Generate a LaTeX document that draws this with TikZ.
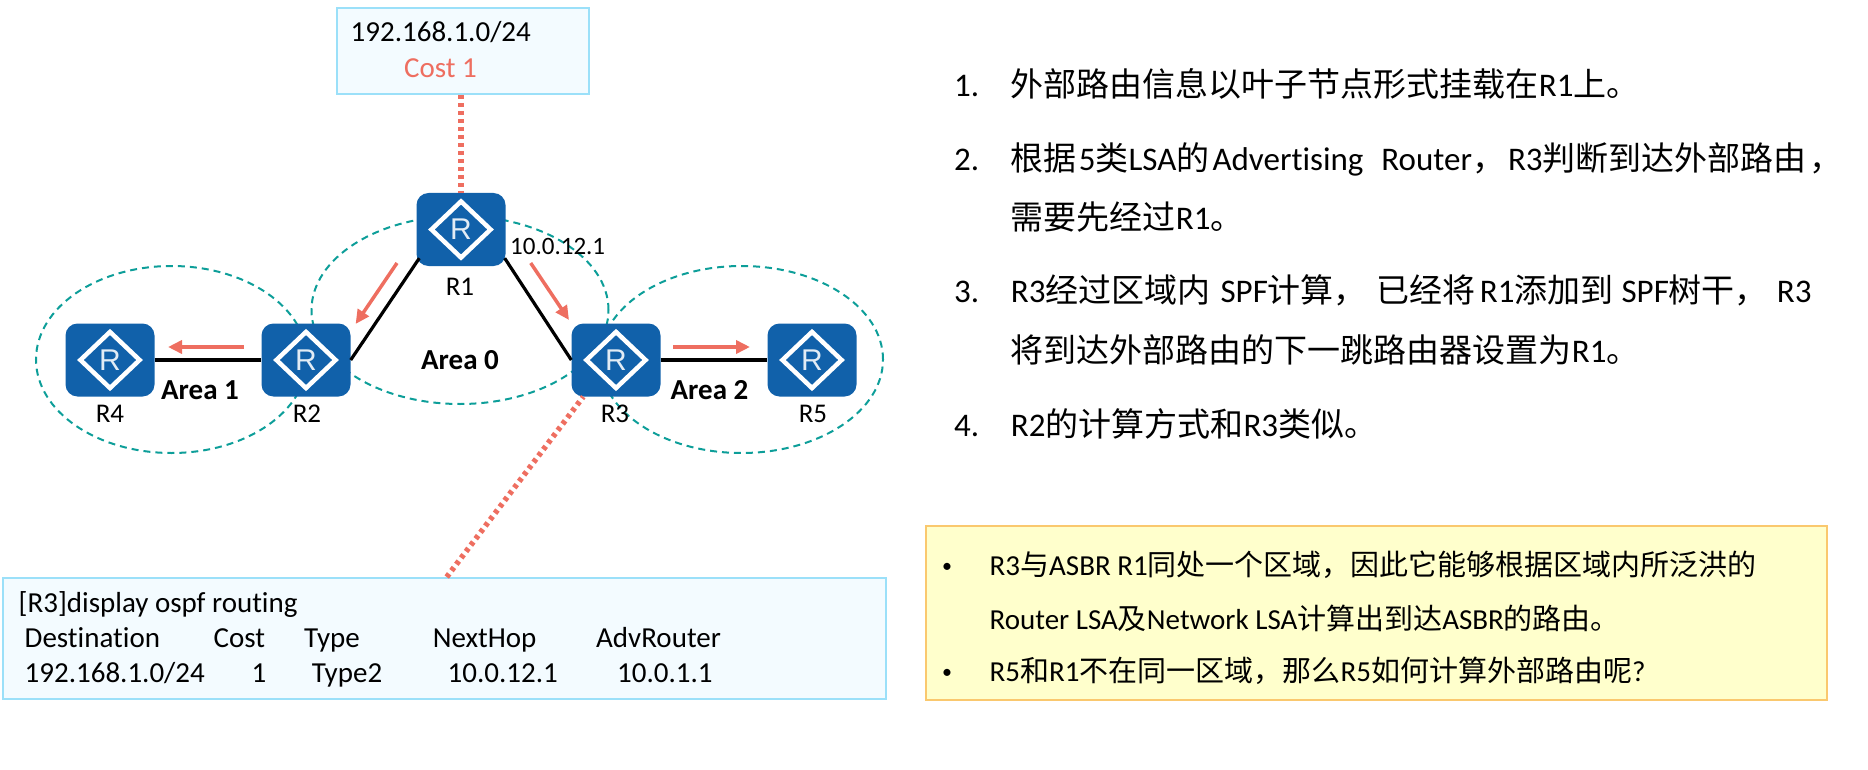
\documentclass[tikz,border=0pt]{standalone}
\usepackage{fontspec}
\setmainfont{Carlito}[Ligatures=NoCommon]
\newfontfamily\cjk{Noto Sans CJK SC}
\newfontfamily\routerfont{Liberation Sans}
\usetikzlibrary{shapes.geometric,arrows.meta}
\newcommand{\sz}[1]{\fontsize{#1}{#1}\selectfont}
\newcommand{\zh}[1]{{\cjk #1}}
\definecolor{routerblue}{HTML}{1161AA}
\definecolor{notered}{HTML}{EE6E60}
\definecolor{areateal}{HTML}{0D9E99}
\definecolor{panelline}{HTML}{9BE0F9}
\definecolor{panelfill}{HTML}{F3FBFF}
\definecolor{hintline}{HTML}{FAC86E}
\definecolor{hintfill}{HTML}{FFFFCC}
\tikzset{
	x=1pt,y=-1pt,
	router/.style={fill=routerblue,rounded corners=12pt,minimum width=89pt,minimum height=73pt,inner sep=0pt},
	routermark/.style={draw=white,line width=4.5pt,shape=diamond,minimum width=61pt,minimum height=58pt,inner sep=0pt,text=white!88!routerblue,font=\routerfont\sz{30}},
	rname/.style={font=\sz{27}},
	areaname/.style={font=\sz{29}\bfseries},
	arealine/.style={draw=areateal,line width=2pt,dash pattern=on 7pt off 5pt},
	panel/.style={draw=panelline,fill=panelfill,line width=2pt,anchor=north west,inner sep=0pt},
	hint/.style={draw=hintline,fill=hintfill,line width=2pt,anchor=north west,inner sep=0pt},
	line/.style={anchor=base west,inner sep=0pt,font=\sz{29}},
	step line/.style={anchor=base west,inner sep=0pt,font=\sz{33}},
	link/.style={draw=black,line width=3.2pt},
	flow/.style={draw=notered,line width=3.5pt,-{Triangle[length=14pt,width=13pt]}},
	tie/.style={draw=notered,line width=5.5pt,dash pattern=on 4pt off 4pt}
}
\begin{document}
\begin{tikzpicture}
	\useasboundingbox (0,0) rectangle (1868,770);

	% areas
	\node[arealine,shape=ellipse,minimum width=271pt,minimum height=187pt,inner sep=0pt] (area1) at (171.5,359.5) {};
	\node[arealine,shape=ellipse,minimum width=297pt,minimum height=188pt,inner sep=0pt] (area0) at (460,310) {};
	\node[arealine,shape=ellipse,minimum width=283pt,minimum height=187pt,inner sep=0pt] (area2) at (741.5,359.5) {};

	% routers
	\foreach \nm/\x/\y/\lx/\ly in {R1/461/229.5/460/287,R2/306/360/307/414,R3/616/360/615/414,R4/110/360/110/414,R5/812/360/813/414}{
		\node[router] (\nm) at (\x,\y) {};
		\node[routermark] (\nm mark) at (\nm) {R};
		\node[rname] (\nm name) at (\lx,\ly) {\nm};
	}

	% boxes
	\node[panel,minimum width=252pt,minimum height=86pt] (net) at (335.5,7) {};
	\node[panel,minimum width=883pt,minimum height=121pt] (table) at (2,577) {};
	\node[hint,minimum width=901pt,minimum height=174pt] (note) at (925,525) {};

	% links
	\draw[link] (R4.east) -- (R2.west);
	\draw[link] (R3.east) -- (R5.west);
	\draw[link] ([shift={(3,-8)}]R1.south west) -- (R2.east);
	\draw[link] ([shift={(-1,-8)}]R1.south east) -- (R3.west);
	\draw[tie] (net.south -| R1.north) -- (R1.north);
	\coordinate (tabletop) at (446.7,577);
	\draw[tie] (tabletop) -- ([shift={(12,0)}]R3.south west);

	% flows
	\coordinate (f1a) at (397,263);
	\coordinate (f1b) at (355.6,324);
	\coordinate (f2a) at (530.7,263);
	\coordinate (f2b) at (569,320);
	\coordinate (f3a) at (244,347);
	\coordinate (f3b) at (168,347);
	\coordinate (f4a) at (673,347);
	\coordinate (f4b) at (750,347);
	\draw[flow] (f1a) -- (f1b);
	\draw[flow] (f2a) -- (f2b);
	\draw[flow] (f3a) -- (f3b);
	\draw[flow] (f4a) -- (f4b);

	% labels
	\node[areaname] (a0) at (460,360) {Area 0};
	\node[areaname] (a1) at (200,390) {Area 1};
	\node[areaname] (a2) at (709.5,390) {Area 2};
	\node[anchor=base west,inner sep=0pt,font=\sz{25}] (gw) at (510,254) {10.0.12.1};
	\node[line] (netip) at (350.5,42) {192.168.1.0/24};
	\node[line,text=notered] (netcost) at (404,78) {Cost 1};

	% routing table
	\node[line] (cmd) at (18.5,612) {[R3]display ospf routing};
	\foreach \i/\x/\t in {1/24.5/Destination,2/213.5/Cost,3/304/Type,4/432.6/NextHop,5/596/AdvRouter}{
		\node[line] (head\i) at (\x,647) {\t};
	}
	\foreach \i/\x/\t in {1/24.5/192.168.1.0\slash 24,2/251.5/1,3/311.7/Type2,4/447.5/10.0.12.1,5/617/10.0.1.1}{
		\node[line] (cell\i) at (\x,682) {\t};
	}

	% steps
	\node[step line] (n1) at (954,97) {1.};
	\node[step line] (n2) at (954,170.5) {2.};
	\node[step line] (n3) at (954,302.5) {3.};
	\node[step line] (n4) at (954,436.5) {4.};
	\node[step line] (s1) at (1010.7,97) {\zh{外部路由信息以叶子节点形式挂载在}R1\zh{上。}};
	\node[step line] (s2) at (1010.7,170.5) {\zh{根据}\hspace{2pt}5\zh{类}LSA\zh{的}\hspace{3pt}Advertising\hspace{18pt}Router\zh{，}\hspace{3pt}R3\zh{判断到达外部路由}\hspace{3pt}\zh{，}};
	\node[step line] (s2b) at (1010.7,229.5) {\zh{需要先经过}R1\zh{。}};
	\node[step line] (s3) at (1010.7,302.5) {R3\zh{经过区域内}\hspace{10pt}SPF\zh{计算，}\hspace{10pt}\zh{已经将}\hspace{4pt}R1\zh{添加到}\hspace{8pt}SPF\zh{树干，}\hspace{9pt}R3};
	\node[step line] (s3b) at (1010.7,362.5) {\zh{将到达外部路由的下一跳路由器设置为}R1\zh{。}};
	\node[step line] (s4) at (1010.7,436.5) {R2\zh{的计算方式和}R3\zh{类似。}};

	% note
	\node[line,font=\sz{20}] (b1) at (942,572) {•};
	\node[line,font=\sz{20}] (b2) at (942,678) {•};
	\node[line] (t1) at (989.5,575.5) {R3\zh{与}ASBR R1\zh{同处一个区域，因此它能够根据区域内所泛洪的}};
	\node[line] (t1b) at (989.5,629.7) {Router LSA\zh{及}Network LSA\zh{计算出到达}ASBR\zh{的路由。}};
	\node[line] (t2) at (989.5,681) {R5\zh{和}R1\zh{不在同一区域，那么}R5\zh{如何计算外部路由呢}?};
\end{tikzpicture}
\end{document}
